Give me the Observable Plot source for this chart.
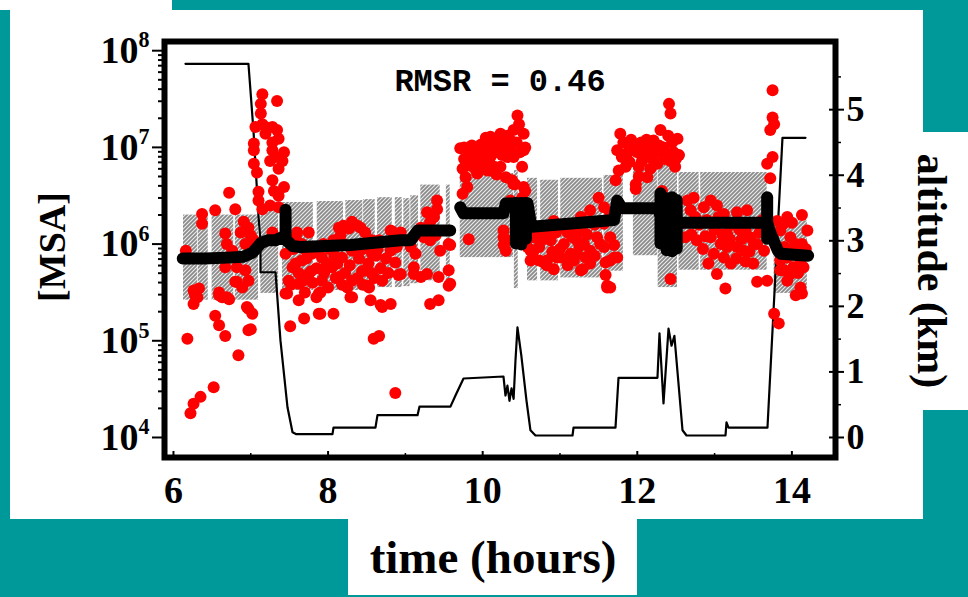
<!DOCTYPE html>
<html><head><meta charset="utf-8">
<script src="https://cdn.jsdelivr.net/npm/d3@7"></script>
<script src="https://cdn.jsdelivr.net/npm/@observablehq/plot@0.6"></script>
<style>
html,body{margin:0;padding:0}
body{width:968px;height:597px;background:#009999;position:relative;overflow:hidden}
.w{position:absolute;background:#fff}
#chart{position:absolute;left:0;top:0}
.lab{position:absolute;font-family:"Liberation Serif","Times New Roman",serif;font-weight:bold;color:#000;white-space:nowrap;line-height:1}
</style></head><body>
<div class="w" style="left:0;top:0;width:172px;height:10px"></div>
<div class="w" style="left:10px;top:10px;width:913px;height:509px"></div>
<div class="w" style="left:923px;top:132px;width:45px;height:278px"></div>
<div class="w" style="left:348px;top:519px;width:289px;height:76px"></div>
<div id="chart"></div>
<div class="lab" style="left:52px;top:247px;font-size:38px;transform:translate(-50%,-50%) rotate(-90deg)">[MSA]</div>
<div class="lab" style="left:932px;top:271px;font-size:42px;transform:translate(-50%,-50%) rotate(90deg)">altitude (km)</div>
<div class="lab" style="left:493px;top:557px;font-size:47px;transform:translate(-50%,-50%)">time (hours)</div>
<script>
// ---------- data (time in hours, MSA as log10 exponent, altitude in km) ----------
const timeTicks = [6, 8, 10, 12, 14];
const timeMinor = [7, 9, 11, 13];
const msaExponents = [4, 5, 6, 7, 8];
const altitudeTicks = [0, 1, 2, 3, 4, 5];
const altitudeMinor = [0.5, 1.5, 2.5, 3.5, 4.5, 5.5];
const rmsrLabel = "RMSR = 0.46";

// observed MSA: [time, log10 MSA]
const observed = [
[6.16,5.93],[6.26,5.52],[6.31,5.45],[6.26,5.38],[6.28,5.47],[6.33,5.54],[6.54,5.26],[6.59,5.16],[6.67,5.05],[6.18,5.02],[6.84,4.85],[6.52,4.52],[6.35,4.42],[6.26,4.35],[6.22,4.25],[6.59,5.47],[6.63,5.45],[6.59,5.50],[6.69,5.45],[6.72,5.43],[6.82,5.61],[6.80,5.61],[6.89,5.55],[6.97,5.62],[6.95,5.35],[6.97,5.33],[7.02,5.28],[6.97,5.11],[7.00,5.12],
[6.72,6.53],[6.54,6.35],[6.80,6.36],[6.37,6.31],[6.37,6.21],[6.91,6.23],[6.97,6.17],[6.87,6.12],[7.00,6.09],[6.67,6.11],[7.04,6.04],[6.93,6.00],[6.69,6.00],[6.76,5.93],[7.28,6.12],[6.67,5.76],[6.82,5.76],[6.93,5.73],
[7.15,7.55],[7.13,7.45],[7.34,7.48],[7.13,7.35],[7.15,7.24],[7.06,7.21],[7.19,7.21],[7.28,7.21],[7.34,7.18],[7.19,7.14],[7.36,7.09],[7.28,7.05],[7.04,7.04],[7.28,6.97],[7.04,6.97],[7.43,6.95],[7.32,6.90],[7.41,6.86],[7.25,6.86],[7.04,6.83],[7.08,6.74],[7.36,6.78],[7.28,6.66],[7.43,6.59],[7.10,6.54],[7.30,6.55],[7.36,6.50],[7.10,6.45],[7.25,6.40],[7.36,6.38],[7.15,6.36],
[7.58,6.07],[7.60,6.12],[7.75,6.12],[8.14,6.17],[8.20,6.19],[8.27,6.16],[8.31,6.23],[8.38,6.19],[8.42,6.17],[8.48,6.12],[8.66,6.04],[8.85,6.12],[8.81,6.14],[8.16,6.09],[7.94,6.00],[8.07,6.04],[8.57,6.04],
[7.45,5.90],[7.54,5.76],[7.66,5.83],[7.79,5.90],[7.92,5.86],[8.05,5.76],[8.18,5.86],[8.31,5.93],[8.57,5.90],
[7.49,5.62],[7.62,5.59],[7.75,5.69],[7.92,5.62],[8.14,5.66],[8.31,5.62],[8.48,5.73],[8.70,5.62],
[7.45,5.49],[7.90,5.50],[8.31,5.45],[8.53,5.55],[8.70,5.35],[7.88,5.28],
[7.70,5.95],[7.85,5.75],[7.98,5.80],[8.02,5.95],[8.12,5.80],[8.22,5.70],[8.40,5.85],[8.45,5.95],[8.52,5.80],[8.62,5.88],[8.68,5.75],[7.55,5.95],[7.62,5.70],[7.80,5.60],[8.25,5.55],[8.38,5.65],[8.60,5.65],[7.70,5.50],[8.00,5.55],[7.85,5.45],
[7.58,5.80],[7.66,6.00],[7.72,5.85],[7.78,5.72],[7.88,5.95],[7.95,5.70],[8.08,5.88],[8.10,5.65],[8.20,6.00],[8.28,5.78],[8.35,5.95],[8.44,5.72],[8.50,6.02],[8.56,5.70],[8.64,5.95],[8.75,5.85],[8.78,5.70],[7.52,5.58],[7.68,5.62],[8.18,5.58],[8.45,5.58],
[7.47,5.49],[7.62,5.42],[7.88,5.49],[8.07,5.28],[7.90,5.28],[7.69,5.23],[7.51,5.15],[8.29,5.45],[8.51,5.57],[8.55,5.42],[8.68,5.37],[8.81,5.38],[8.59,5.02],[8.66,5.05],[8.94,5.69],[9.32,5.38],[9.43,5.42],[9.56,5.57],[8.87,4.46],
[8.81,5.93],[8.89,5.97],[8.87,5.81],[8.91,5.68],[9.07,5.97],[9.13,5.90],[9.11,5.76],[9.20,5.66],[9.28,5.69],[9.24,6.07],[9.28,6.17],[9.37,6.28],[9.41,6.45],[9.41,6.36],[9.32,6.04],[9.45,5.93],[9.43,5.66],[9.56,6.00],[9.56,5.73],[9.58,5.59],[9.28,6.33],[9.32,6.23],[9.20,6.17],[9.39,6.09],[9.58,5.99],[8.94,6.12],[9.11,5.69],
[9.71,6.99],[9.76,6.88],[9.84,6.93],[9.93,6.97],[10.01,7.00],[10.10,7.11],[10.14,7.04],[10.23,7.14],[10.32,7.12],[10.40,7.18],[10.45,7.33],[10.47,7.24],[10.53,7.14],[10.55,7.00],[10.53,6.97],[10.51,6.80],[10.36,7.07],[10.23,7.00],[10.10,6.90],[9.97,6.85],[9.84,6.81],[9.74,6.78],[9.78,6.69],[9.93,6.73],[10.06,6.76],[10.23,6.80],[10.32,6.90],[10.40,6.90],[10.30,6.69],[10.38,6.66],[10.40,6.62],[10.42,6.62],[10.55,6.55],[10.53,6.59],[10.51,6.48],[9.74,6.52],[9.80,6.59],[10.36,6.45],[9.88,6.90],[10.00,6.92],[10.05,6.83],[10.18,6.95],[10.28,7.05],[9.90,6.78],[10.15,6.80],
[9.76,7.00],[9.80,6.98],[9.86,7.02],[9.95,6.90],[10.02,6.85],[10.08,7.00],[10.12,6.95],[10.20,7.08],[10.25,6.92],[10.35,6.98],[10.44,7.05],[10.48,6.95],[9.98,7.03],[10.04,7.10],[10.18,6.72],[10.10,6.76],[9.95,6.80],
[9.82,6.05],[10.27,6.14],[10.27,6.07],[10.32,6.04],[10.30,5.93],[10.27,5.99],
[10.66,6.07],[10.73,5.97],[10.83,6.14],[10.92,6.24],[11.05,6.17],[11.16,6.07],[11.27,6.28],[11.39,6.35],[11.50,6.48],[11.57,6.38],[11.39,6.24],[11.29,6.14],[11.57,6.21],[11.65,6.31],[11.48,6.07],[11.31,6.00],[11.14,5.90],[10.96,5.86],[10.79,5.81],[10.66,5.93],[10.62,5.83],[10.88,6.04],[11.05,6.00],[11.22,6.04],[11.39,5.93],[11.57,5.97],[11.65,5.83],[11.29,5.74],[11.59,5.81],[11.61,5.55],[10.83,5.78],[11.18,5.83],[11.39,5.80],[10.58,5.97],
[10.62,5.93],[10.73,5.83],[10.83,5.83],[11.01,5.86],[11.14,5.83],[11.27,5.73],[11.22,5.90],[11.59,5.68],[11.61,5.57],[11.74,5.86],[11.70,5.99],[11.65,6.07],[11.70,5.86],[11.65,5.55],
[10.70,6.10],[10.78,6.05],[10.90,5.92],[10.95,6.12],[11.00,5.95],[11.10,6.12],[11.20,6.15],[11.25,5.98],[11.35,6.10],[11.45,6.20],[11.45,5.88],[11.52,6.00],[11.33,5.86],[11.10,5.78],[10.92,5.74],
[11.78,7.14],[11.74,6.97],[11.80,6.90],[11.76,6.76],[11.72,6.66],[11.95,7.02],[12.00,6.95],[12.08,7.00],[12.15,6.90],[12.21,7.07],[12.30,7.18],[12.41,7.45],[12.43,7.35],[12.34,7.00],[12.45,7.05],[12.52,7.09],[12.54,6.92],[12.49,6.80],[12.43,6.86],[12.26,6.83],[12.17,6.78],[12.06,6.86],[12.13,6.69],[11.98,6.62],[11.98,6.57],[12.32,6.55],[12.36,6.45],[11.88,6.95],[12.05,7.05],[12.25,6.95],[12.38,6.92],[12.20,6.88],[11.90,6.85],[12.43,5.64],
[11.82,7.05],[11.85,6.80],[11.92,7.08],[12.02,6.80],[12.10,6.97],[12.12,7.08],[12.18,6.98],[12.28,7.02],[12.35,6.88],[12.40,7.12],[12.47,6.95],[12.50,6.88],[12.02,6.70],
[12.65,6.45],[12.73,6.48],[12.69,6.35],[12.86,6.38],[12.95,6.45],[13.03,6.40],[13.12,6.31],[13.29,6.33],[13.42,6.35],[12.62,6.07],[12.77,6.04],[12.95,6.07],[13.08,6.00],[13.16,6.11],[13.29,5.97],[13.46,6.07],[13.55,6.00],[13.64,5.93],[12.99,5.90],[13.12,5.86],[13.21,5.80],[13.03,5.69],[13.14,5.54],[13.55,5.61],[13.68,5.62],[12.56,6.21],[13.16,5.97],[13.38,5.93],[13.51,6.00],[12.80,6.20],[12.90,6.25],[13.00,6.15],[13.25,6.20],[13.40,6.15],[12.85,5.95],[13.35,6.05],
[12.70,6.10],[12.75,6.28],[12.88,6.08],[13.05,6.28],[13.10,6.10],[13.20,6.05],[13.32,6.15],[13.45,5.92],[13.58,6.12],[13.62,6.25],[13.50,5.80],[13.40,5.82],[13.28,5.85],[12.92,5.80],
[13.75,7.59],[13.75,7.31],[13.77,7.24],[13.72,7.18],[13.75,6.90],[13.68,6.83],[13.72,6.68],
[13.77,5.28],[13.83,5.18],[13.81,6.24],[13.94,6.28],[14.13,6.30],[14.20,6.14],[14.13,6.00],[13.98,6.07],[13.85,6.14],[13.90,5.97],[14.02,5.76],[13.90,5.73],[14.15,5.76],[13.94,5.62],[14.11,5.55],[14.05,5.47],[13.85,5.83],[13.85,5.73],[13.98,5.69],[14.11,5.83],[13.94,5.86],[14.13,5.49],
[13.88,6.20],[14.00,6.22],[14.05,6.00],[14.18,5.95],[13.95,5.95],[14.08,5.70]
];

// model MSA: [time, log10 MSA, run]
const model = [
[6.12,5.85,1],[6.40,5.85,1],[6.70,5.86,1],[6.91,5.87,1],[7.02,5.91,1],[7.10,5.98,1],[7.13,6.01,1],[7.22,6.04,1],[7.32,6.04,1],[7.40,6.07,1],[7.49,6.02,1],[7.54,5.98,1],[7.64,5.97,1],[8.29,5.99,1],[8.94,6.04,1],[9.07,6.04,1],[9.16,6.14,1],[9.58,6.14,1],
[9.71,6.38,2],[9.75,6.32,2],[10.27,6.32,2],[10.30,6.42,2],[10.58,6.42,2],[10.63,6.18,2],[11.70,6.25,2],[11.74,6.45,2],[11.80,6.37,2],[12.26,6.37,2],[12.30,6.30,2],[12.52,6.22,2],[13.68,6.22,2],[13.72,6.12,2],[13.76,6.04,2],[13.82,5.93,2],[13.86,5.90,2],[14.21,5.88,2]
];
// short bursts of model values: [time, low, high] (log10 MSA)
const modelSpread = [[7.45,6.04,6.35],[10.43,6.00,6.42],[10.50,5.99,6.42],[10.56,6.05,6.42],[12.30,6.00,6.52],[12.38,5.93,6.47],[12.45,5.92,6.48],[12.51,5.95,6.45],[13.68,6.05,6.48]];

// uncertainty band pieces: [t start, t end, top, bottom] (log10 MSA)
const bands = [
[6.13,6.31,6.30,5.42],[6.32,6.45,6.30,5.42],[6.50,6.78,6.30,5.42],[6.80,7.10,6.30,5.42],
[7.13,7.36,6.42,5.49],[7.41,7.81,6.43,5.52],[7.86,8.20,6.44,5.52],[8.23,8.45,6.45,5.52],[8.46,8.61,6.46,5.52],[8.64,8.83,6.48,5.55],[8.87,8.96,6.48,5.55],[8.98,9.06,6.47,5.56],[9.07,9.17,6.50,5.59],[9.20,9.45,6.61,5.62],[9.53,9.58,6.61,5.62],
[9.71,10.40,6.73,5.86],[10.41,10.46,6.76,5.54],
[10.58,10.71,6.68,5.62],[10.75,10.98,6.66,5.62],[11.01,11.55,6.68,5.65],[11.57,11.82,6.71,5.72],
[11.95,12.26,6.83,5.88],[12.27,12.52,6.83,5.55],[12.54,12.80,6.74,5.73],[12.82,13.68,6.74,5.73],
[13.77,14.20,6.24,5.49]
];

// flight altitude: [time, km]
const altitude = [
[6.155,5.70],[6.97,5.70],[7.035,4.68],[7.10,3.38],[7.125,3.00],[7.126,2.52],[7.32,2.52],[7.384,1.48],[7.475,0.46],[7.54,0.08],[7.59,0.05],[8.057,0.05],[8.07,0.15],[8.613,0.15],[8.639,0.34],[9.157,0.34],[9.182,0.47],[9.583,0.47],[9.648,0.64],[9.752,0.90],[10.269,0.93],[10.295,0.64],[10.32,0.79],[10.347,0.56],[10.373,0.75],[10.40,0.59],[10.424,1.17],[10.45,1.68],[10.50,1.25],[10.567,0.56],[10.618,0.11],[10.683,0.03],[11.162,0.03],[11.175,0.15],[11.718,0.15],[11.757,0.91],[12.261,0.91],[12.287,1.59],[12.339,0.52],[12.404,1.66],[12.443,1.40],[12.48,1.55],[12.585,0.11],[12.637,0.03],[13.141,0.03],[13.154,0.23],[13.18,0.15],[13.684,0.15],[13.878,4.57],[14.176,4.57]
];

// ---------- dual-axis alignment: km on right axis -> decades on left axis ----------
const KM_TO_DECADES = 0.678;
const altToMSA = a => 10 ** (4 + a * KM_TO_DECADES);
const minorMSA = [];
for (const e of [4, 5, 6, 7]) for (let k = 2; k <= 9; k++) minorMSA.push(k * 10 ** e);

const serif = "'Liberation Serif','Times New Roman',serif";
const chart = Plot.plot({
  width: 968, height: 597,
  marginLeft: 164, marginRight: 133, marginTop: 41, marginBottom: 140,
  style: {background: "transparent", color: "#000", fontFamily: serif},
  x: {domain: [5.884, 14.564]},
  y: {type: "log", domain: [10 ** 3.793, 10 ** 8.095]},
  marks: [
    Plot.rect(bands, {x1: d => d[0], x2: d => d[1], y1: d => 10 ** d[3], y2: d => 10 ** d[2], fill: "url(#hatch)"}),
    Plot.line(altitude, {x: d => d[0], y: d => altToMSA(d[1]), stroke: "#000", strokeWidth: 2.2}),
    Plot.dot(observed, {x: d => d[0], y: d => 10 ** d[1], r: 6, fill: "#ff0000"}),
    Plot.ruleX(modelSpread, {x: d => d[0], y1: d => 10 ** d[1], y2: d => 10 ** d[2], stroke: "#000", strokeWidth: 12, strokeLinecap: "round"}),
    Plot.line(model, {x: d => d[0], y: d => 10 ** d[1], z: d => d[2], stroke: "#000", strokeWidth: 12, strokeLinecap: "round", strokeLinejoin: "round"}),
    Plot.frame({stroke: "#000", strokeWidth: 6}),
    Plot.axisY(minorMSA, {anchor: "left", tickSize: 6, strokeWidth: 2, text: null, label: null}),
    Plot.axisY(msaExponents.map(e => 10 ** e), {anchor: "left", tickSize: 12, strokeWidth: 2, tickPadding: 3,
      tickFormat: v => "10^" + Math.round(Math.log10(v)), fontSize: 38, fontWeight: "bold", label: null}),
    Plot.axisY(altitudeTicks.map(altToMSA), {anchor: "right", tickSize: 8, strokeWidth: 2, text: null, label: null}),
    Plot.axisY(altitudeTicks.map(altToMSA), {anchor: "right", tickSize: -7, strokeWidth: 2, text: null, label: null}),
    Plot.axisY(altitudeMinor.map(altToMSA), {anchor: "right", tickSize: 5, strokeWidth: 1.5, text: null, label: null}),
    Plot.text(altitudeTicks, {y: a => altToMSA(a), text: a => String(a), frameAnchor: "right", textAnchor: "start", dx: 11, fontSize: 36, fontWeight: "bold"}),
    Plot.axisX(timeTicks, {anchor: "bottom", tickSize: 0, tickPadding: 19, fontSize: 38, fontWeight: "bold", label: null}),
    Plot.axisX(timeTicks, {anchor: "bottom", tickSize: -6, strokeWidth: 2, text: null, label: null}),
    Plot.axisX(timeMinor, {anchor: "bottom", tickSize: -4, strokeWidth: 1.5, text: null, label: null}),
    Plot.text([rmsrLabel], {text: d => d, frameAnchor: "top", dy: 27, fontFamily: "'Liberation Mono','Courier New',monospace", fontSize: 32, fontWeight: "bold"})
  ]
});

// hatch pattern for the uncertainty band
const defs = d3.select(chart).insert("defs", ":first-child");
const pat = defs.append("pattern").attr("id", "hatch").attr("patternUnits", "userSpaceOnUse").attr("width", 4).attr("height", 4);
pat.append("rect").attr("width", 4).attr("height", 4).attr("fill", "#8a8a8a");
pat.append("path").attr("d", "M-1,1L1,-1M0,4L4,0M3,5L5,3").attr("stroke", "#ececec").attr("stroke-width", 1.1);

// superscript exponents on the left axis
d3.select(chart).selectAll("text").each(function () {
  const m = /^10\^(\d)$/.exec(this.textContent);
  if (m) {
    const t = d3.select(this);
    t.text(null);
    t.append("tspan").text("10");
    t.append("tspan").attr("dy", "-0.7em").attr("font-size", "0.58em").text(m[1]);
  }
});

document.getElementById("chart").appendChild(chart);
</script>
</body></html>
